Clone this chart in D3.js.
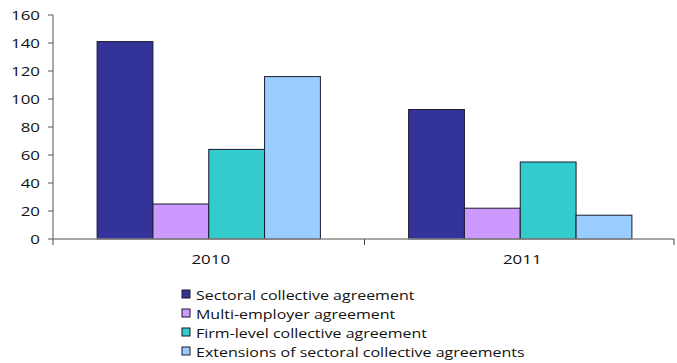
<!DOCTYPE html>
<html>
<head>
<meta charset="utf-8">
<script src="https://cdn.jsdelivr.net/npm/d3@7"></script>
<style>
  body { margin: 0; background: #fff; }
  svg { display: block; font-family: 'Open Sans', sans-serif; }
</style>
</head>
<body>
<div id="chart"></div>
<script>
// data
const years = ['2010', '2011']
const seriesNames = [
  'Sectoral collective agreement',
  'Multi-employer agreement',
  'Firm-level collective agreement',
  'Extensions of sectoral collective agreements'
]
const sectoral = [141, 92.5]
const multiEmployer = [25, 22]
const firmLevel = [64, 55]
const extensions = [116, 17]
const yTicks = [0, 20, 40, 60, 80, 100, 120, 140, 160]
const colors = ['#333399', '#cc99ff', '#33cccc', '#99ccff']

const seriesValues = [sectoral, multiEmployer, firmLevel, extensions]

const width = 677
const height = 363
const m = { left: 53, right: 1, top: 15, bottom: 124 }
const stretch = 1.35 // the original picture is stretched sideways

const svg = d3.select('#chart')
  .append('svg')
  .attr('width', width)
  .attr('height', height)

const x0 = d3.scaleBand()
  .domain(years)
  .range([m.left, width - m.right])

const x1 = d3.scaleBand()
  .domain(d3.range(seriesNames.length))
  .range([0, x0.bandwidth()])
  .paddingOuter(0.79)

const y = d3.scaleLinear()
  .domain([0, 160])
  .range([height - m.bottom, m.top])

// bars
const groups = svg.selectAll('.year')
  .data(years)
  .enter()
  .append('g')
  .attr('class', 'year')
  .attr('transform', d => `translate(${x0(d)},0)`)

groups.selectAll('rect')
  .data((d, yi) => seriesValues.map((vals, si) => ({ si, v: vals[yi] })))
  .enter()
  .append('rect')
  .attr('x', d => x1(d.si))
  .attr('y', d => y(d.v))
  .attr('width', x1.bandwidth())
  .attr('height', d => y(0) - y(d.v))
  .attr('fill', d => colors[d.si])
  .attr('stroke', '#1a1a2e')
  .attr('stroke-width', 1)

// y axis
const yAxis = svg.append('g')
yAxis.append('line')
  .attr('x1', m.left).attr('x2', m.left)
  .attr('y1', y(160)).attr('y2', y(0))
  .attr('stroke', '#555')
yAxis.selectAll('.tick')
  .data(yTicks)
  .enter()
  .append('line')
  .attr('x1', m.left - 5).attr('x2', m.left)
  .attr('y1', d => y(d)).attr('y2', d => y(d))
  .attr('stroke', '#555')
yAxis.selectAll('text')
  .data(yTicks)
  .enter()
  .append('text')
  .attr('transform', d => `translate(${m.left - 13},${y(d) + 4.5}) scale(${stretch},1)`)
  .attr('text-anchor', 'end')
  .attr('font-size', 12.5)
  .attr('fill', '#111')
  .text(d => d)

// x axis
const xAxis = svg.append('g')
xAxis.append('line')
  .attr('x1', m.left).attr('x2', width - m.right - 2)
  .attr('y1', y(0)).attr('y2', y(0))
  .attr('stroke', '#888')
  .attr('stroke-width', 1.5)
xAxis.selectAll('.tick')
  .data([m.left, x0('2011'), width - m.right - 2])
  .enter()
  .append('line')
  .attr('x1', d => d).attr('x2', d => d)
  .attr('y1', y(0)).attr('y2', y(0) + 6)
  .attr('stroke', '#444')
xAxis.selectAll('text')
  .data(years)
  .enter()
  .append('text')
  .attr('transform', d => `translate(${x0(d) + x0.bandwidth() / 2 + 2},${y(0) + 25}) scale(${stretch},1)`)
  .attr('text-anchor', 'middle')
  .attr('font-size', 12.5)
  .attr('fill', '#111')
  .text(d => d)

// legend
const legend = svg.append('g')
  .attr('transform', 'translate(182,290)')
const rowH = 19
const items = legend.selectAll('g')
  .data(seriesNames)
  .enter()
  .append('g')
  .attr('transform', (d, i) => `translate(0,${i * rowH})`)
items.append('rect')
  .attr('x', 0).attr('y', 0)
  .attr('width', 8).attr('height', 8)
  .attr('fill', (d, i) => colors[i])
  .attr('stroke', '#1a1a2e')
  .attr('stroke-width', 1)
items.append('text')
  .attr('transform', 'translate(14,9.5) scale(1.23,1)')
  .attr('font-size', 13)
  .attr('fill', '#111')
  .text(d => d)
</script>
</body>
</html>
